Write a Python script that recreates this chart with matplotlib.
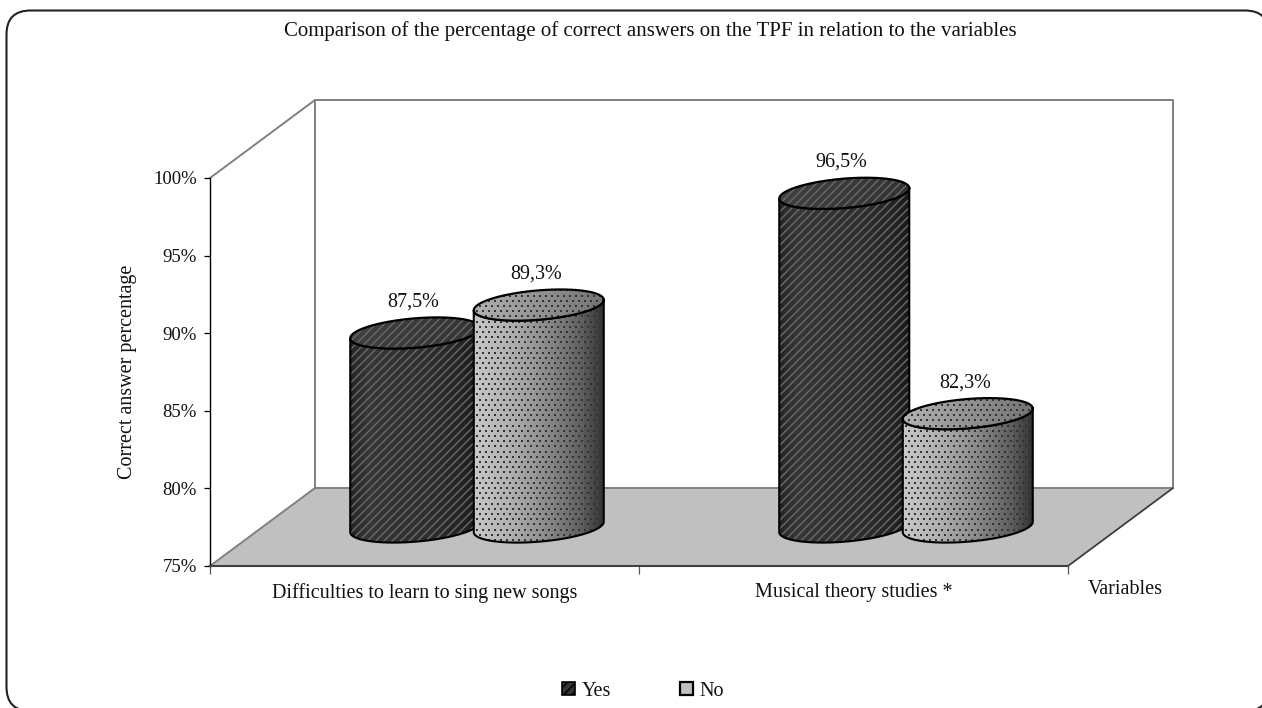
import numpy as np
import matplotlib
matplotlib.use("Agg")
import matplotlib.pyplot as plt
from matplotlib.patches import FancyBboxPatch, PathPatch, Polygon, Patch
from matplotlib.path import Path
from matplotlib.colors import LinearSegmentedColormap

plt.rcParams["font.family"] = ["Liberation Serif", "DejaVu Serif"]
plt.rcParams["hatch.linewidth"] = 1.1

title = "Comparison of the percentage of correct answers on the TPF in relation to the variables"
categories = ["Difficulties to learn to sing new songs", "Musical theory studies *"]
series_names = ["Yes", "No"]
yes_values = [87.5, 96.5]
no_values = [89.3, 82.3]
y_ticks = [75, 80, 85, 90, 95, 100]
y_label = "Correct answer percentage"
x_label = "Variables"

W, H = 1262, 708
FS = 14.5
fig = plt.figure(figsize=(W / 100, H / 100), dpi=100, facecolor="white")

# Rounded chart-area border, in pixel units; it runs past the right and bottom edges
bg = fig.add_axes([0, 0, 1, 1], zorder=0)
bg.set_xlim(0, W)
bg.set_ylim(H, 0)
bg.axis("off")
bg.add_patch(FancyBboxPatch((6.5, 10.5), 1262.5, 700.5, boxstyle="round,pad=0,rounding_size=24",
                            fc="white", ec="#222222", lw=1.5))

# Front plane of the 3-D box
ax = fig.add_axes([210 / W, 1 - 566 / H, 858 / W, 388 / H], zorder=1)
ax.patch.set_visible(False)
ax.set_xlim(0, 2)
ax.set_ylim(75, 100)
PX = 858 / 2   # pixels per category
PY = 388 / 25  # pixels per percentage point
DX, DY = 105 / PX, 78 / PY  # full depth of the box in data units
WALL = "#808080"

ax.add_patch(Polygon([(0, 75), (2, 75), (2 + DX, 75 + DY), (DX, 75 + DY)],
                     closed=True, fc="#C0C0C0", ec=WALL, lw=1.4, clip_on=False, zorder=1))
ax.plot([2, 2 + DX], [75, 75 + DY], color="#333333", lw=0.9, clip_on=False, zorder=1.1)
ax.plot([0, DX, 2 + DX, 2 + DX], [100, 100 + DY, 100 + DY, 75 + DY],
        color=WALL, lw=1.4, clip_on=False, zorder=1)
ax.plot([DX, DX], [100 + DY, 75 + DY], color=WALL, lw=1.4, clip_on=False, zorder=1)

# Cylinder geometry, in data units
half_w = 65 / PX
minor = 14.7 / PY
tilt = 5.2 / PY          # rise of the rim from centre to right edge
offset = 61.75 / PX

yes_side = LinearSegmentedColormap.from_list(
    "yes_side", [(0, "#262626"), (0.12, "#363636"), (0.6, "#2e2e2e"), (0.85, "#262626"), (1, "#1a1a1a")])
no_side = LinearSegmentedColormap.from_list(
    "no_side", [(0, "#c6c6c6"), (0.3, "#adadad"), (0.6, "#858585"), (0.85, "#5e5e5e"), (1, "#383838")])
yes_top = LinearSegmentedColormap.from_list("yes_top", ["#404040", "#333333"])
no_top = LinearSegmentedColormap.from_list("no_top", ["#b0b0b0", "#747474"])
STYLES = {
    "Yes": dict(side=yes_side, top=yes_top, stripes=True),
    "No": dict(side=no_side, top=no_top, stripes=False),
}


def rim(cx, cy, start=0.0, stop=2 * np.pi, n=91):
    t = np.linspace(start, stop, n)
    return (cx + half_w * np.cos(t),
            cy + minor * np.sin(t) + tilt * np.cos(t))


def shaded(path, cx, cmap, z):
    """Banded left-to-right shading clipped to a path."""
    clip = PathPatch(path, transform=ax.transData, fc="none", ec="none")
    ax.add_patch(clip)
    bands = np.linspace(0, 1, 26)
    im = ax.imshow(bands[None, :], extent=[cx - half_w, cx + half_w, 75, 105], aspect="auto",
                   cmap=cmap, vmin=0, vmax=1, zorder=z, interpolation="nearest")
    im.set_clip_path(clip)
    return clip


def texture(path, clip, cx, z, stripes):
    if stripes:
        ax.add_patch(PathPatch(path, fc="none", ec="#666666", hatch="////", lw=0,
                               zorder=z, clip_on=False))
        return
    # Staggered grid of tiny dots, under a pixel each
    ys = np.arange(75, 105, 5.2 / PY)
    xs, yy = [], []
    for i, y in enumerate(ys):
        row = np.arange(cx - half_w + (i % 2) * 3 / PX, cx + half_w, 6 / PX)
        xs.append(row)
        yy.append(np.full_like(row, y))
    pts = ax.scatter(np.concatenate(xs), np.concatenate(yy), s=0.6, marker="s", c="#333333",
                     linewidths=0, zorder=z)
    pts.set_clip_path(clip)


def draw_cylinder(x, value, name, z):
    st = STYLES[name]
    cx = x + DX / 2
    base = 75 + DY / 2
    top = value + DY / 2

    # Side wall: the base's front half, then the top rim's front half
    bx, by = rim(cx, base, np.pi, 2 * np.pi)
    tx, ty = rim(cx, top, 2 * np.pi, np.pi)
    side_xy = np.column_stack([np.r_[bx, tx], np.r_[by, ty]])
    side = Path(np.vstack([side_xy, side_xy[0]]), closed=True)
    clip = shaded(side, cx, st["side"], z)
    texture(side, clip, cx, z + 0.1, st["stripes"])
    ax.add_patch(PathPatch(side, fc="none", ec="black", lw=1.5, zorder=z + 0.2, clip_on=False))

    # Top face
    ex, ey = rim(cx, top)
    face = Path(np.column_stack([ex, ey]), closed=True)
    clip = shaded(face, cx, st["top"], z + 0.3)
    texture(face, clip, cx, z + 0.4, st["stripes"])
    ax.plot(ex, ey, color="black", lw=1.6, zorder=z + 0.5, clip_on=False)

    label = f"{value:.1f}%".replace(".", ",")
    ax.annotate(label, (cx, top), xytext=(-2.5 * 0.72, 31 * 0.72), textcoords="offset points",
                ha="center", va="center", fontsize=FS, color="#111111", zorder=20,
                annotation_clip=False)


z = 3
for i in range(len(categories)):
    draw_cylinder(i + 0.5 - offset, yes_values[i], series_names[0], z)
    draw_cylinder(i + 0.5 + offset, no_values[i], series_names[1], z + 1)
    z += 2
ax.set_xlim(0, 2)
ax.set_ylim(75, 100)

# Axes
for s in ("top", "right"):
    ax.spines[s].set_visible(False)
ax.spines["left"].set_color("black")
ax.spines["left"].set_linewidth(1.0)
ax.spines["bottom"].set_color("#404040")
ax.spines["bottom"].set_linewidth(1.5)
ax.set_yticks(y_ticks)
ax.set_yticklabels([f"{v}%" for v in y_ticks], fontsize=13.5, color="#111111")
ax.set_xticks([0, 1, 2])
ax.set_xticklabels([])
ax.set_xticks([0.5, 1.5], labels=categories, minor=True, fontsize=FS, color="#111111")
ax.tick_params(axis="x", which="minor", length=0, pad=12)
ax.tick_params(axis="x", which="major", length=5.5, width=0.9, color="#555555")
ax.tick_params(axis="y", length=4.3, width=0.9, pad=5)
ax.set_ylabel(y_label, fontsize=FS, labelpad=11.5, color="#111111")

fig.text(650 / W, 1 - 31 / H, title, ha="center", va="center", fontsize=15, color="#111111")
fig.text(1125 / W, 1 - 589 / H, x_label, ha="center", va="center", fontsize=FS, color="#111111")

handles = [
    Patch(fc="#333333", ec="black", hatch="////", lw=1.2, label=series_names[0]),
    Patch(fc="#C0C0C0", ec="black", lw=1.6, label=series_names[1]),
]
fig.legend(handles=handles, ncol=2, frameon=False, fontsize=FS, loc="center",
           labelcolor="#111111", bbox_to_anchor=(643 / W, 1 - 691 / H),
           handlelength=0.65, handleheight=0.65, handletextpad=0.35, columnspacing=3.4)

fig.savefig("out.png", dpi=100)
